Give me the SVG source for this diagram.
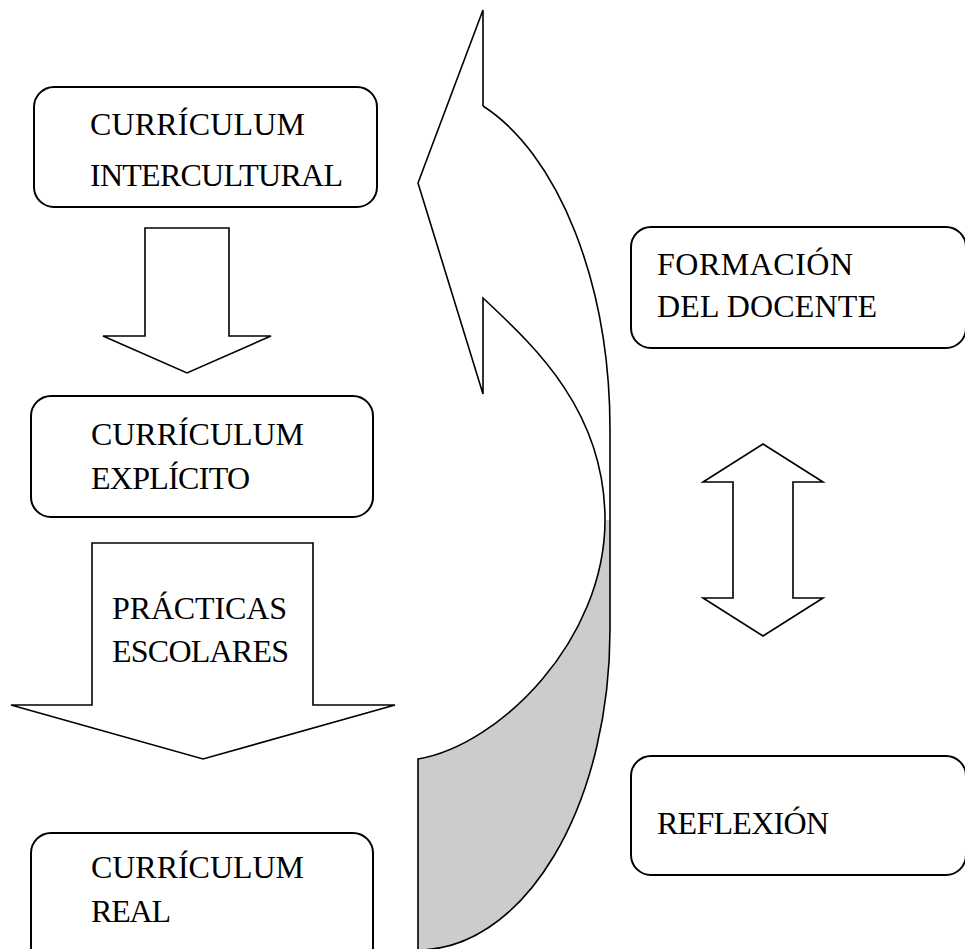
<svg xmlns="http://www.w3.org/2000/svg" width="965" height="949" viewBox="0 0 965 949">
  <style>
    .box { fill: #ffffff; stroke: #000000; stroke-width: 2; }
    .blk { fill: #ffffff; stroke: #000000; stroke-width: 1.6; stroke-linejoin: miter; }
    .band { fill: #ffffff; stroke: none; }
    .shade { fill: #cccccc; stroke: none; }
    .edge { fill: none; stroke: #000000; stroke-width: 1.6; stroke-linejoin: miter; }
    .lbl { font-family: "Liberation Serif", "Times New Roman", serif; font-size: 32px; fill: #000000; }
  </style>
  <rect width="965" height="949" fill="#ffffff"/>

  <g id="connectors">
    <!-- down arrow: intercultural to explicit -->
    <polygon class="blk" points="145,228 229,228 229,336 271,336 187,373 103,336 145,336"/>
    <!-- wide down arrow carrying the school practices label -->
    <g id="practicas">
      <polygon class="blk" points="92,543 313,543 313,705 395,705 203,759 11,705 92,705"/>
      <text class="lbl" x="112" y="619" textLength="175">PRÁCTICAS</text>
      <text class="lbl" x="112" y="662" textLength="177">ESCOLARES</text>
    </g>
    <!-- two-way arrow between teacher training and reflection -->
    <polygon class="blk" points="763,444 823,482 793,482 793,598 823,598 763,636 703,598 733,598 733,482 703,482"/>
    <!-- curved feedback arrow pointing up -->
    <g id="curved-arrow">
      <path class="band" d="M483,10 L483,106 A192,344 0 0 1 610,430 L610,520 L605,520 C605,410 533,345 483,298 L483,394 L418,183 Z"/>
      <path class="shade" d="M605,520 L610,520 L610,630 A192,320 0 0 1 418,950 L418,759 C500,745 605,640 605,520 Z"/>
      <path class="edge" d="M483,106 L483,10 L418,183 L483,394 L483,298 C533,345 605,410 605,520 C605,640 500,745 418,759 L418,950"/>
      <path class="edge" d="M483,106 A192,344 0 0 1 610,430 L610,630 A192,320 0 0 1 418,950"/>
    </g>
  </g>

  <g id="curriculum-intercultural">
    <rect class="box" x="34" y="87" width="343" height="120" rx="20" ry="20"/>
    <text class="lbl" x="90" y="135" textLength="215">CURRÍCULUM</text>
    <text class="lbl" x="90" y="186" textLength="253">INTERCULTURAL</text>
  </g>

  <g id="curriculum-explicito">
    <rect class="box" x="31" y="396" width="342" height="121" rx="20" ry="20"/>
    <text class="lbl" x="91" y="445" textLength="213">CURRÍCULUM</text>
    <text class="lbl" x="91" y="489" textLength="159">EXPLÍCITO</text>
  </g>

  <g id="curriculum-real">
    <rect class="box" x="31" y="833" width="342" height="135" rx="20" ry="20"/>
    <text class="lbl" x="91" y="878" textLength="213">CURRÍCULUM</text>
    <text class="lbl" x="91" y="922" textLength="80">REAL</text>
  </g>

  <g id="formacion-docente">
    <rect class="box" x="631" y="227" width="335" height="121" rx="20" ry="20"/>
    <text class="lbl" x="657" y="275" textLength="196">FORMACIÓN</text>
    <text class="lbl" x="657" y="317" textLength="220">DEL DOCENTE</text>
  </g>

  <g id="reflexion">
    <rect class="box" x="631" y="756" width="335" height="119" rx="20" ry="20"/>
    <text class="lbl" x="657" y="834" textLength="172">REFLEXIÓN</text>
  </g>
</svg>
